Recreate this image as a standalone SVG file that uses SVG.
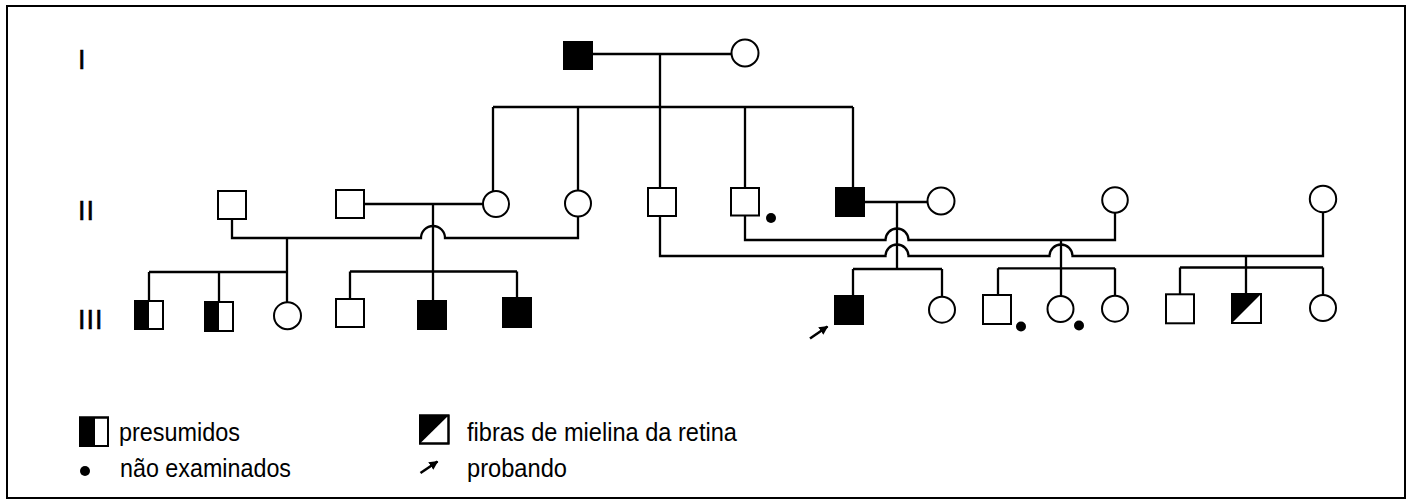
<svg xmlns="http://www.w3.org/2000/svg" width="1413" height="500" viewBox="0 0 1413 500">
<style>
.ln{fill:none;stroke:#000;stroke-width:2.3}
.o{fill:#fff;stroke:#000;stroke-width:2}
.f{fill:#000;stroke:#000;stroke-width:2}
.k{fill:#000;stroke:none}
.e{fill:none;stroke:#000;stroke-width:2}
.g{font-family:"Liberation Sans",Arial,sans-serif;font-size:27px;fill:#000;stroke:#000;stroke-width:0.5;letter-spacing:1px}
.t{font-family:"Liberation Sans",Arial,sans-serif;font-size:25px;fill:#000}
.ar{fill:none;stroke:#000;stroke-width:2.6}
</style>
<defs>
<marker id="ah" viewBox="0 0 10 10" refX="9" refY="5" markerWidth="9" markerHeight="9" markerUnits="userSpaceOnUse" orient="auto">
<path d="M0,0L10,5L0,10Z" fill="#000"/>
</marker>
</defs>
<rect x="7" y="6" width="1398" height="492" fill="#fff" stroke="#000" stroke-width="2"/>

<g id="labels">
<text class="g" x="78" y="69">I</text>
<text class="g" x="78" y="220">II</text>
<text class="g" x="78" y="329">III</text>
</g>

<g id="connectors">
<path class="ln" d="M592 54H731.5M660 54V107M493 107H853M493 107V191M578 107V190.5M660 107V188M745 107V188M853 107V188"/>
<path class="ln" d="M364 204H483M433 204V301"/>
<path class="ln" d="M232 219V238H421A12 12 0 0 1 445 238H578V216.5"/>
<path class="ln" d="M287 238V302.2M149 272H287M149 272V301M219 272V302"/>
<path class="ln" d="M350 271.5H517M350 271.5V299M517 271.5V298"/>
<path class="ln" d="M864 202H927.5M897 202V269"/>
<path class="ln" d="M745 215.5V240H885.5A11.5 11.5 0 0 1 908.5 240H1115V212.8"/>
<path class="ln" d="M1061 240V296"/>
<path class="ln" d="M660 216V256H885.5A11.5 11.5 0 0 1 908.5 256H1049.5A11.5 11.5 0 0 1 1072.5 256H1323V212.2"/>
<path class="ln" d="M853 269H942M853 269V296M942 269V296.7"/>
<path class="ln" d="M998 268.3H1115M998 268.3V295M1115 268.3V295.7"/>
<path class="ln" d="M1246 256V294M1180 267.5H1323M1180 267.5V294.3M1323 267.5V295"/>
</g>

<g id="I-1"><rect class="f" x="564" y="42" width="28" height="27"/></g>
<g id="I-2"><circle class="o" cx="745" cy="53" r="13.5"/></g>

<g id="II-1"><rect class="o" x="218" y="191" width="28" height="28"/></g>
<g id="II-2"><rect class="o" x="336" y="190" width="28" height="28"/></g>
<g id="II-3"><circle class="o" cx="496" cy="204" r="13"/></g>
<g id="II-4"><circle class="o" cx="578" cy="203.5" r="13"/></g>
<g id="II-5"><rect class="o" x="648" y="188" width="28" height="28"/></g>
<g id="II-6"><rect class="o" x="731" y="188" width="28" height="27.5"/><circle class="k" cx="771" cy="218" r="5"/></g>
<g id="II-7"><rect class="f" x="836" y="188" width="28" height="28"/></g>
<g id="II-8"><circle class="o" cx="941" cy="201" r="13.5"/></g>
<g id="II-9"><circle class="o" cx="1115" cy="200" r="12.8"/></g>
<g id="II-10"><circle class="o" cx="1323" cy="199" r="13.2"/></g>

<g id="III-1"><rect class="o" x="135" y="301" width="28" height="28"/><rect class="k" x="135" y="301" width="14" height="28"/><rect class="e" x="135" y="301" width="28" height="28"/></g>
<g id="III-2"><rect class="o" x="205" y="302" width="28" height="29"/><rect class="k" x="205" y="302" width="14" height="29"/><rect class="e" x="205" y="302" width="28" height="29"/></g>
<g id="III-3"><circle class="o" cx="287.5" cy="315.7" r="13.5"/></g>
<g id="III-4"><rect class="o" x="336" y="299" width="28" height="28"/></g>
<g id="III-5"><rect class="f" x="418" y="301" width="28" height="28"/></g>
<g id="III-6"><rect class="f" x="503" y="298" width="28" height="29"/></g>
<g id="III-7"><rect class="f" x="835" y="296" width="28" height="28"/><path class="ar" d="M810 338.5L827.5 326.5" marker-end="url(#ah)"/></g>
<g id="III-8"><circle class="o" cx="942" cy="309.7" r="13"/></g>
<g id="III-9"><rect class="o" x="983" y="295" width="28" height="29"/><circle class="k" cx="1021" cy="326.5" r="5"/></g>
<g id="III-10"><circle class="o" cx="1060.5" cy="309" r="13"/><circle class="k" cx="1079" cy="325.5" r="5"/></g>
<g id="III-11"><circle class="o" cx="1115" cy="308.7" r="13"/></g>
<g id="III-12"><rect class="o" x="1166" y="294.3" width="28" height="29"/></g>
<g id="III-13"><rect class="o" x="1232" y="294" width="29" height="29"/><path class="k" d="M1232 294H1261L1232 323Z"/><rect class="e" x="1232" y="294" width="29" height="29"/></g>
<g id="III-14"><circle class="o" cx="1323" cy="308" r="13"/></g>

<g id="legend">
<rect class="o" x="80" y="417.5" width="28" height="28.5"/><rect class="k" x="80" y="417.5" width="15" height="28.5"/><rect class="e" x="80" y="417.5" width="28" height="28.5"/>
<text class="t" x="119" y="440.5" textLength="121" lengthAdjust="spacingAndGlyphs">presumidos</text>
<circle class="k" cx="85" cy="471" r="5"/>
<text class="t" x="120" y="477" textLength="171" lengthAdjust="spacingAndGlyphs">não examinados</text>
<rect class="o" x="420" y="415.5" width="28.5" height="28"/><path class="k" d="M420 415.5H448.5L420 443.5Z"/><rect class="e" x="420" y="415.5" width="28.5" height="28"/>
<text class="t" x="467" y="440.5" textLength="270" lengthAdjust="spacingAndGlyphs">fibras de mielina da retina</text>
<path class="ar" d="M420.5 473L437.5 461.5" marker-end="url(#ah)"/>
<text class="t" x="467" y="477" textLength="100" lengthAdjust="spacingAndGlyphs">probando</text>
</g>
</svg>
